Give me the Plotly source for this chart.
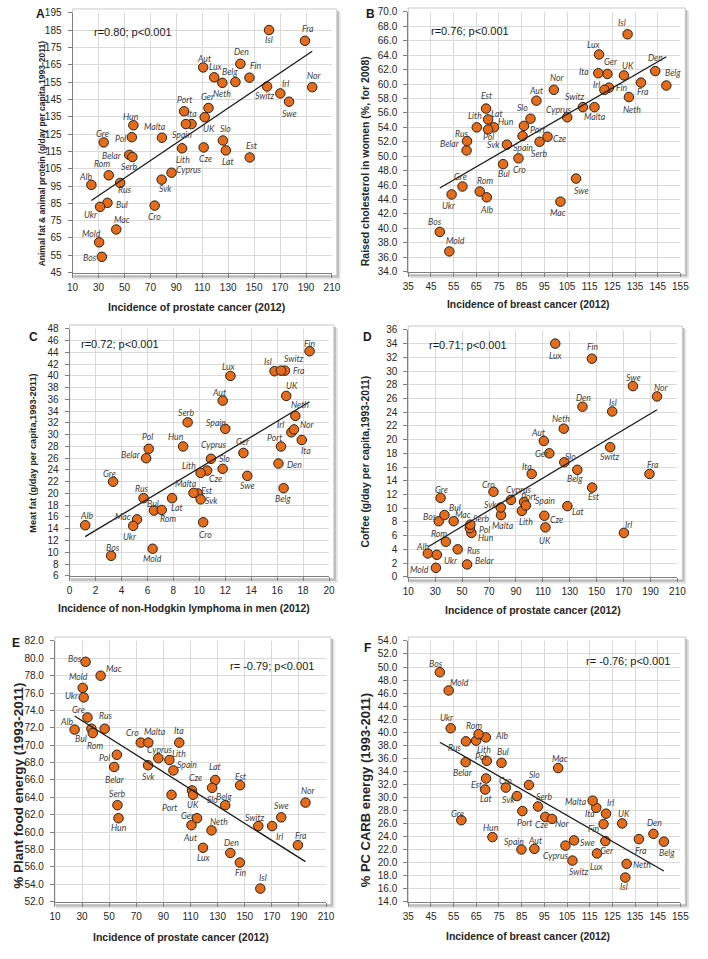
import numpy as np
import plotly.graph_objects as go

W, H = 708, 959

COUNTRIES = ["Alb", "Aut", "Belar", "Belg", "Bos", "Bul", "Cro", "Cyprus", "Cze", "Den",
             "Est", "Fin", "Fra", "Ger", "Gre", "Hun", "Isl", "Irl", "Ita", "Lat",
             "Lith", "Lux", "Mac", "Malta", "Mold", "Neth", "Nor", "Pol", "Port", "Rom",
             "Rus", "Serb", "Svk", "Slo", "Spain", "Swe", "Switz", "UK", "Ukr"]

# Incidence of prostate cancer (2012) - panels A, D, E
prostate = [24.5, 110.7, 53.7, 135.6, 32.6, 36.9, 73.3, 86.3, 111.1, 139.4,
            146.6, 146.4, 189.2, 114.8, 34.0, 56.9, 161.5, 170.2, 101.7, 128.2,
            94.4, 119.2, 43.7, 78.9, 30.5, 125.5, 194.8, 55.7, 96.0, 37.9,
            46.7, 56.1, 78.7, 125.9, 97.4, 176.9, 160.0, 111.9, 31.2]
# A: animal fat & animal protein
animal_fat_protein = [95.7, 163.5, 113.0, 155.1, 54.1, 85.3, 83.7, 102.7, 117.3, 165.6,
                      111.5, 157.6, 178.9, 140.1, 120.2, 130.1, 185.1, 148.5, 130.8, 115.6,
                      116.8, 157.8, 69.9, 122.9, 62.5, 154.6, 152.1, 123.2, 138.2, 101.2,
                      96.8, 111.8, 98.7, 121.3, 130.8, 143.7, 152.5, 134.8, 83.0]
# D: coffee
coffee = [3.4, 19.8, 1.8, 15.6, 8.1, 9.0, 12.4, 11.2, 8.9, 24.8,
          13.0, 31.8, 15.0, 18.0, 11.5, 6.4, 24.1, 6.4, 15.0, 10.3,
          9.6, 34.0, 8.1, 9.0, 1.3, 21.6, 26.3, 7.1, 10.9, 5.1,
          4.0, 7.6, 10.1, 16.7, 10.4, 27.8, 18.9, 7.2, 3.2]
# E: % plant food energy
plant_energy = [71.8, 60.8, 67.5, 63.1, 79.6, 71.9, 70.3, 68.5, 64.8, 57.6,
                65.4, 56.5, 58.5, 61.6, 73.2, 61.6, 53.5, 60.7, 70.3, 66.0,
                68.3, 58.2, 78.0, 70.3, 76.6, 60.2, 63.4, 68.9, 64.3, 71.4,
                71.9, 63.1, 67.7, 65.1, 67.1, 61.7, 60.7, 64.3, 75.5]
# B: breast cancer incidence and raised cholesterol in women
breast_B = [69.6, 91.5, 60.7, 148.8, 48.9, 76.8, 83.6, 105.1, 96.4, 143.9,
            69.3, 123.5, 137.6, 122.8, 58.9, 72.8, 131.7, 121.5, 118.8, 70.2,
            65.2, 119.1, 102.1, 117.1, 53.1, 132.3, 99.2, 70.2, 86.0, 66.5,
            60.9, 92.9, 78.5, 88.9, 85.4, 109.0, 112.0, 130.1, 54.1]
cholesterol = [44.3, 57.7, 50.8, 59.8, 39.5, 48.9, 49.7, 55.4, 52.7, 61.8,
               56.6, 59.5, 60.2, 61.4, 45.8, 54.0, 66.9, 59.2, 61.5, 55.1,
               54.0, 64.1, 43.7, 56.8, 36.8, 58.2, 59.2, 53.7, 54.2, 45.1,
               52.1, 52.0, 51.6, 55.2, 52.8, 46.9, 56.8, 61.2, 44.7]
# F: breast cancer incidence and % PC CARB energy
breast_F = [69.2, 90.6, 60.3, 147.7, 48.9, 76.1, 78.0, 104.3, 95.4, 143.1,
            69.3, 121.1, 136.7, 121.9, 58.4, 72.1, 130.7, 122.2, 117.9, 68.9,
            64.9, 118.2, 101.1, 116.3, 52.8, 131.3, 98.4, 69.6, 85.3, 66.0,
            60.4, 92.2, 82.9, 88.2, 84.9, 108.1, 107.4, 129.3, 53.7]
carb_energy = [39.2, 22.1, 35.4, 23.2, 49.2, 35.3, 31.5, 22.6, 27.0, 24.4,
               32.9, 25.9, 23.6, 23.3, 26.5, 23.9, 17.7, 27.5, 28.4, 31.2,
               38.7, 21.4, 34.5, 29.5, 46.4, 19.8, 26.7, 35.6, 27.9, 39.7,
               38.6, 28.6, 30.2, 31.9, 22.0, 23.4, 20.3, 26.0, 40.6]
# C: non-Hodgkin lymphoma in men and meat fat
nhl = [1.2, 11.8, 5.9, 16.5, 3.2, 6.5, 10.3, 10.9, 10.6, 16.1,
       9.9, 18.5, 16.6, 13.4, 3.35, 8.75, 15.8, 17.1, 17.9, 7.9,
       10.1, 12.4, 5.2, 9.55, 6.4, 17.4, 17.3, 6.1, 16.3, 7.1,
       5.7, 9.1, 10.1, 11.8, 12.0, 13.7, 16.3, 16.7, 4.9]
meat_fat = [14.6, 35.8, 26.0, 20.9, 9.4, 17.1, 15.1, 25.9, 23.9, 25.1,
            20.0, 44.2, 40.9, 26.9, 22.0, 28.0, 40.8, 30.4, 29.1, 19.2,
            23.5, 40.0, 15.6, 20.1, 10.6, 33.2, 30.9, 27.6, 28.0, 17.2,
            19.2, 32.1, 19.0, 24.2, 31.0, 23.0, 40.9, 36.6, 14.5]

# ---------------- label offsets (px, dx right, dy down) ----------------
OFF_A = {"Isl": (0, 9), "Fra": (3, -12), "Den": (1, -12), "Aut": (1, -9), "Lux": (2, -11),
         "Fin": (7, -12), "Belg": (-5, -10), "Neth": (0, 11), "Switz": (-2, 9), "Nor": (2, -12),
         "Irl": (5, -10), "Swe": (0, 12), "Ger": (0, -11), "Port": (0, -12), "UK": (4, 11),
         "Ita": (1, -11), "Spain": (-4, 10), "Hun": (-2, -9), "Gre": (-1, -9), "Pol": (-11, 1),
         "Malta": (-7, -11), "Slo": (3, -12), "Lith": (1, 11), "Cze": (2, 11), "Lat": (2, 11),
         "Est": (2, -12), "Belar": (-17, 1), "Serb": (-3, 10), "Rom": (-7, -12), "Cyprus": (17, -3),
         "Svk": (4, 9), "Alb": (-6, -8), "Rus": (5, 7), "Ukr": (-9, 8), "Bul": (15, 2),
         "Cro": (0, 11), "Mac": (6, -10), "Mold": (-8, -9), "Bos": (-12, 1)}
OFF_B = {"Isl": (-6, -12), "Lux": (-5, -10), "Den": (0, -14), "Ita": (-14, -2), "Ger": (4, -12),
         "UK": (4, -10), "Belg": (7, -13), "Nor": (4, -12), "Irl": (-8, -5), "Fin": (13, 0),
         "Fra": (2, 9), "Neth": (3, 12), "Aut": (0, -10), "Switz": (-8, -11), "Malta": (1, 9),
         "Est": (0, -13), "Cyprus": (-8, -8), "Lat": (9, -6), "Slo": (-8, -11), "Lith": (-2, -12),
         "Hun": (12, -6), "Pol": (0, 7), "Port": (14, 4), "Spain": (0, 11), "Serb": (0, 12),
         "Cze": (12, 2), "Rus": (-5, -8), "Belar": (-17, -7), "Svk": (-13, 0), "Cro": (1, 11),
         "Bul": (1, 9), "Swe": (5, 12), "Gre": (-2, -10), "Rom": (5, -11), "Ukr": (-3, 11),
         "Alb": (0, 12), "Mac": (-2, 11), "Bos": (-5, -10), "Mold": (6, -11)}
OFF_C = {"Fin": (0, -8), "Isl": (-7, -10), "Switz": (13, -12), "Fra": (14, 0), "Lux": (-1, -9),
         "UK": (6, -10), "Aut": (-4, -8), "Neth": (5, -11), "Serb": (-1, -10), "Spain": (-9, -6),
         "Nor": (14, -5), "Irl": (-11, -8), "Ita": (4, 11), "Port": (-7, -9), "Hun": (-7, -10),
         "Pol": (-1, -12), "Ger": (0, -11), "Belar": (-15, -4), "Cyprus": (3, -14), "Den": (16, 1),
         "Slo": (2, -10), "Lith": (-12, -7), "Cze": (8, 8), "Swe": (0, 10), "Gre": (-4, -8),
         "Belg": (-1, 10), "Malta": (-7, -9), "Est": (8, -3), "Svk": (11, 1), "Rus": (-2, -10),
         "Lat": (5, 9), "Bul": (-1, -7), "Rom": (6, 9), "Mac": (-14, -3), "Ukr": (-3, 11),
         "Alb": (1, -10), "Cro": (2, 12), "Mold": (0, 10), "Bos": (2, -8)}
OFF_D = {"Lux": (1, 12), "Fin": (1, -12), "Swe": (1, -9), "Nor": (4, -9), "Den": (1, -9),
         "Isl": (1, -9), "Neth": (-3, -10), "Aut": (-6, -8), "Switz": (0, 9), "Ger": (-7, 0),
         "Slo": (6, -6), "Belg": (-2, 9), "Ita": (-5, -7), "Fra": (4, -9), "Est": (1, 9),
         "Cro": (-5, -7), "Gre": (1, -8), "Cyprus": (8, -10), "Port": (4, -6), "Spain": (19, -5),
         "Lat": (11, 5), "Svk": (-10, -3), "Lith": (4, 11), "Bul": (11, -8), "Malta": (2, 10),
         "Cze": (12, 4), "Bos": (-9, -5), "Mac": (9, -7), "Serb": (11, -6), "Pol": (15, 1),
         "Hun": (15, 5), "UK": (0, 13), "Irl": (5, -8), "Rom": (-7, -8), "Rus": (16, 1),
         "Alb": (-5, -7), "Ukr": (14, 6), "Belar": (18, -4), "Mold": (-16, 2)}
OFF_E = {"Bos": (-11, -3), "Mac": (13, -7), "Mold": (-4, -11), "Ukr": (-12, -2), "Gre": (-9, -8),
         "Alb": (-8, -8), "Bul": (-10, 10), "Rom": (2, 12), "Rus": (1, -13), "Cro": (-8, -10),
         "Malta": (7, -11), "Ita": (0, -12), "Pol": (-12, 3), "Cyprus": (2, -9), "Lith": (10, -7),
         "Belar": (1, 13), "Svk": (0, 11), "Spain": (14, -6), "Lat": (0, -13), "Slo": (0, 12),
         "Est": (0, -9), "Cze": (3, -13), "UK": (0, 10), "Port": (-2, 13), "Belg": (-1, -9),
         "Nor": (3, -12), "Serb": (0, -12), "Swe": (0, -12), "Hun": (0, 9), "Ger": (-9, -3),
         "Aut": (-1, 12), "Switz": (-3, -9), "Irl": (7, 10), "Neth": (7, -9), "Fra": (3, -10),
         "Lux": (1, 10), "Den": (1, -10), "Fin": (1, 10), "Isl": (3, -11)}
OFF_F = {"Bos": (-4, -9), "Mold": (11, -8), "Ukr": (-4, -11), "Rom": (-5, -9), "Alb": (16, -2),
         "Rus": (-11, 6), "Lith": (8, 9), "Pol": (-6, -4), "Bul": (2, -11), "Belar": (-3, 10),
         "Mac": (2, -10), "Est": (-10, 6), "Lat": (1, 9), "Cro": (0, -7), "Slo": (6, -10),
         "Svk": (-8, 3), "Serb": (6, -10), "Port": (2, 11), "Malta": (-17, 1), "Ita": (-6, 6),
         "Irl": (4, -11), "Gre": (-4, -7), "Cze": (-4, 8), "Nor": (10, 5), "UK": (2, -10),
         "Fin": (-10, 4), "Hun": (-1, -10), "Den": (1, -11), "Fra": (2, 11), "Swe": (13, 2),
         "Ger": (2, 9), "Belg": (3, 11), "Cyprus": (-9, 10), "Spain": (-7, -8), "Aut": (1, -8),
         "Lux": (0, 13), "Switz": (7, 11), "Neth": (15, 1), "Isl": (-1, 9)}

PANELS = [
    dict(letter="A", x=prostate, y=animal_fat_protein, off=OFF_A, box=(68, 333, 7, 270),
         xr=(10, 210), xd=20, yr=(45, 195), yd=10, yfmt="d",
         xt="Incidence of prostate cancer (2012)", xtpos=(195, 305), xts=10.6,
         yt="Animal fat &amp; animal protein (g/day per capita,1993-2011)", ytpos=(37, 150), yts=8.5,
         lpos=(35, 8), r="r=0.80; p&lt;0.001", rpos=(88, 26)),
    dict(letter="B", x=breast_B, y=cholesterol, off=OFF_B, box=(411, 689, 6, 269),
         xr=(35, 155), xd=10, yr=(34, 70), yd=2, yfmt=".1f",
         xt="Incidence of breast cancer (2012)", xtpos=(534, 302), xts=10.3,
         yt="Raised cholesterol in women (%, for 2008)", ytpos=(367, 157), yts=10.5,
         lpos=(372, 8), r="r=0.76; p&lt;0.001", rpos=(432, 25)),
    dict(letter="C", x=nhl, y=meat_fat, off=OFF_C, box=(65, 330, 327, 577),
         xr=(0, 20), xd=2, yr=(6, 48), yd=2, yfmt="d",
         xt="Incidence of non-Hodgkin lymphoma in men (2012)", xtpos=(182, 610), xts=10.4,
         yt="Meat fat (g/day per capita,1993-2011)", ytpos=(28, 453), yts=9.2,
         lpos=(28, 335), r="r=0.72; p&lt;0.001", rpos=(75, 342)),
    dict(letter="D", x=prostate, y=coffee, off=OFF_D, box=(411, 686, 328, 578),
         xr=(10, 210), xd=20, yr=(0, 36), yd=2, yfmt="d",
         xt="Incidence of prostate cancer (2012)", xtpos=(538, 612), xts=10.5,
         yt="Coffee (g/day per capita,1993-2011)", ytpos=(367, 461), yts=10.3,
         lpos=(369, 335), r="r=0.71; p&lt;0.001", rpos=(430, 343)),
    dict(letter="E", x=prostate, y=plant_energy, off=OFF_E, box=(50, 327, 643, 907),
         xr=(10, 210), xd=20, yr=(52, 82), yd=2, yfmt=".1f",
         xt="Incidence of prostate cancer (2012)", xtpos=(179, 943), xts=10.5,
         yt="% Plant food energy (1993-2011)", ytpos=(12, 790), yts=13.5,
         lpos=(10, 645), r="r= -0.79; p&lt;0.001", rpos=(227, 668)),
    dict(letter="F", x=breast_F, y=carb_energy, off=OFF_F, box=(411, 689, 643, 907),
         xr=(35, 155), xd=10, yr=(14, 54), yd=2, yfmt=".1f",
         xt="Incidence of breast cancer (2012)", xtpos=(533, 942), xts=10.4,
         yt="% PC CARB energy (1993-2011)", ytpos=(367, 794), yts=13.0,
         lpos=(369, 650), r="r= -0.76; p&lt;0.001", rpos=(591, 663)),
]

def px(xp):
    return xp / W

def py(yp):
    return 1 - yp / H

TICK_FONT = dict(family="Liberation Sans, Arial, sans-serif", size=10, color="#262626")
TITLE_FAMILY = "Liberation Sans, Arial, sans-serif"
LABEL_FONT = dict(family="Lato, Open Sans, sans-serif", size=8.7, color="#404040")

fig = go.Figure()
annotations = []
shapes = []

for i, p in enumerate(PANELS, start=1):
    x0, x1, y0, y1 = p["box"]
    xa = "x" if i == 1 else f"x{i}"
    ya = "y" if i == 1 else f"y{i}"
    xk = "xaxis" if i == 1 else f"xaxis{i}"
    yk = "yaxis" if i == 1 else f"yaxis{i}"

    # frame with soft shadow
    shapes.append(dict(type="rect", xref="paper", yref="paper", layer="below",
                       x0=px(x0 + 1), x1=px(x1 + 9), y0=py(y1 + 7), y1=py(y0 - 1),
                       fillcolor="#e6e6e6", line=dict(width=0)))
    shapes.append(dict(type="rect", xref="paper", yref="paper", layer="below",
                       x0=px(x0 + 1), x1=px(x1 + 7), y0=py(y1 + 5), y1=py(y0 - 2),
                       fillcolor="#b8b8b8", line=dict(width=0)))
    shapes.append(dict(type="rect", xref="paper", yref="paper", layer="below",
                       x0=px(x0), x1=px(x1 + 5), y0=py(y1 + 3), y1=py(y0 - 4),
                       fillcolor="white", line=dict(color="#c8c8c8", width=1)))

    fig.add_trace(go.Scatter(x=p["x"], y=p["y"], mode="markers", xaxis=xa, yaxis=ya,
                             marker=dict(size=9.5, color="#E46C1A",
                                         line=dict(color="#2a2018", width=1)),
                             showlegend=False, hoverinfo="skip"))
    xs = np.array(p["x"], dtype=float)
    ys = np.array(p["y"], dtype=float)
    m, b = np.polyfit(xs, ys, 1)
    lx = np.array([xs.min(), xs.max()])
    fig.add_trace(go.Scatter(x=lx, y=m * lx + b, mode="lines", xaxis=xa, yaxis=ya,
                             line=dict(color="#1a1a1a", width=1.3),
                             showlegend=False, hoverinfo="skip"))

    for name, xv, yv in zip(COUNTRIES, p["x"], p["y"]):
        dx, dy = p["off"].get(name, (0, -10))
        annotations.append(dict(xref=xa, yref=ya, x=xv, y=yv, text=f"<i>{name}</i>",
                                showarrow=False, xshift=dx, yshift=-dy, font=LABEL_FONT,
                                xanchor="center", yanchor="middle"))

    axis_common = dict(showgrid=True, gridcolor="#dadada", gridwidth=1, zeroline=False,
                       showline=True, linecolor="#808080", linewidth=1,
                       ticks="outside", ticklen=4, tickcolor="#808080", tickfont=TICK_FONT)
    fig.update_layout(**{
        xk: dict(domain=[px(x0), px(x1)], range=list(p["xr"]), tick0=p["xr"][0], dtick=p["xd"],
                 anchor=ya, ticklabelstandoff=1, **axis_common),
        yk: dict(domain=[py(y1), py(y0)], range=list(p["yr"]), tick0=p["yr"][0], dtick=p["yd"],
                 tickformat=p["yfmt"], anchor=xa, ticklabelstandoff=4, **axis_common),
    })

    # axis titles
    annotations.append(dict(xref="paper", yref="paper", x=px(p["xtpos"][0]), y=py(p["xtpos"][1]),
                            text=f"<b>{p['xt']}</b>", showarrow=False, xanchor="center", yanchor="middle",
                            font=dict(family=TITLE_FAMILY, size=p["xts"], color="#262626")))
    annotations.append(dict(xref="paper", yref="paper", x=px(p["ytpos"][0]), y=py(p["ytpos"][1]),
                            text=f"<b>{p['yt']}</b>", showarrow=False, xanchor="center", yanchor="middle",
                            textangle=-90,
                            font=dict(family=TITLE_FAMILY, size=p["yts"], color="#262626")))
    # panel letter
    annotations.append(dict(xref="paper", yref="paper", x=px(p["lpos"][0]), y=py(p["lpos"][1]),
                            text=f"<b>{p['letter']}</b>", showarrow=False, xanchor="center", yanchor="middle",
                            font=dict(family="Liberation Sans, Arial, sans-serif", size=12, color="#1a1a1a")))
    # correlation text
    annotations.append(dict(xref="paper", yref="paper", x=px(p["rpos"][0]), y=py(p["rpos"][1]),
                            text=p["r"], showarrow=False, xanchor="left", yanchor="middle",
                            font=dict(family="Liberation Sans, Arial, sans-serif", size=11, color="#1a1a1a")))

fig.update_layout(width=W, height=H, margin=dict(l=0, r=0, t=0, b=0),
                  paper_bgcolor="white", plot_bgcolor="rgba(0,0,0,0)",
                  annotations=annotations, shapes=shapes, showlegend=False)

fig.write_html("out.html", config={"displayModeBar": False},
               post_script="document.body.style.margin='0';document.body.style.padding='0';")
